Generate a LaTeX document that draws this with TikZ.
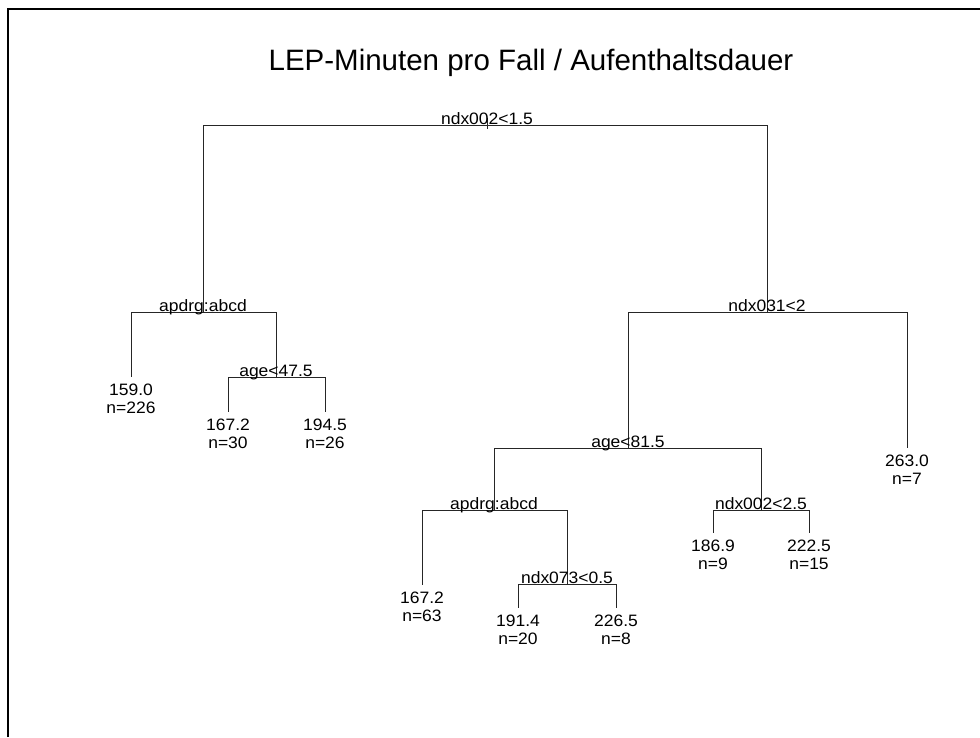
\documentclass[tikz,border=0pt]{standalone}
\usepackage{fontspec}
\setmainfont{Liberation Sans}[FakeStretch=1.06]
\newfontfamily\titlefont{Liberation Sans}
\begin{document}
\begin{tikzpicture}[x=1pt,y=-1pt,
  edge/.style={line width=1pt, draw=black!85},
  lbl/.style={font=\fontsize{16.5}{18}\selectfont, inner sep=0pt, anchor=base, yshift=1pt},
  leaf/.style={font=\fontsize{16.5}{17.5}\selectfont, inner sep=0pt, anchor=north, align=center, yshift=-7pt}]
\useasboundingbox (0,0) rectangle (980,737);
\fill[white] (0,0) rectangle (980,737);
% frame
\draw[line width=2pt] (7.5,737) -- (7.5,9) -- (980,9);
% title
\node[font=\titlefont\fontsize{29.5}{32}\selectfont, inner sep=0pt, anchor=base] (title) at (531,70) {LEP-Minuten pro Fall / Aufenthaltsdauer};
% split points
\coordinate (rt) at (487,118);
\coordinate (rb) at (487,129);
\coordinate (R) at (487,125);
\coordinate (A) at (203,312);
\coordinate (B) at (767,312);
\coordinate (C) at (276,377);
\coordinate (D) at (628,448);
\coordinate (E) at (494,510);
\coordinate (F) at (761,510);
\coordinate (G) at (567,584);
% leaf ends
\coordinate (L1) at (131,377);
\coordinate (L2) at (228,412);
\coordinate (L3) at (325,412);
\coordinate (L4) at (907,448);
\coordinate (L5) at (422,585);
\coordinate (L6) at (518,608);
\coordinate (L7) at (616,608);
\coordinate (L8) at (713,533);
\coordinate (L9) at (809,533);
% connectors
\draw[edge] (rt) -- (rb);
\draw[edge] (R) -| (A);
\draw[edge] (R) -| (B);
\draw[edge] (A) -| (L1);
\draw[edge] (A) -| (C);
\draw[edge] (C) -| (L2);
\draw[edge] (C) -| (L3);
\draw[edge] (B) -| (D);
\draw[edge] (B) -| (L4);
\draw[edge] (D) -| (E);
\draw[edge] (D) -| (F);
\draw[edge] (E) -| (L5);
\draw[edge] (E) -| (G);
\draw[edge] (G) -| (L6);
\draw[edge] (G) -| (L7);
\draw[edge] (F) -| (L8);
\draw[edge] (F) -| (L9);
% split labels
\node[lbl] (tR) at (R) {ndx002<1.5};
\node[lbl] (tA) at (A) {apdrg:abcd};
\node[lbl] (tB) at (B) {ndx031<2};
\node[lbl] (tC) at (C) {age<47.5};
\node[lbl] (tD) at (D) {age<81.5};
\node[lbl] (tE) at (E) {apdrg:abcd};
\node[lbl] (tF) at (F) {ndx002<2.5};
\node[lbl] (tG) at (G) {ndx073<0.5};
% leaf labels
\node[leaf] (tL1) at (L1) {159.0\\n=226};
\node[leaf] (tL2) at (L2) {167.2\\n=30};
\node[leaf] (tL3) at (L3) {194.5\\n=26};
\node[leaf] (tL4) at (L4) {263.0\\n=7};
\node[leaf] (tL5) at (L5) {167.2\\n=63};
\node[leaf] (tL6) at (L6) {191.4\\n=20};
\node[leaf] (tL7) at (L7) {226.5\\n=8};
\node[leaf] (tL8) at (L8) {186.9\\n=9};
\node[leaf] (tL9) at (L9) {222.5\\n=15};
\end{tikzpicture}
\end{document}
